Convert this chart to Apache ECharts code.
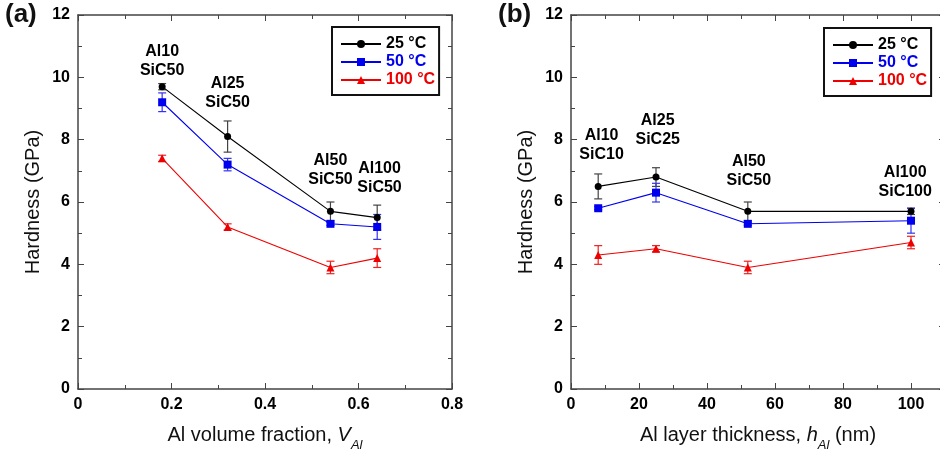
<!DOCTYPE html>
<html><head><meta charset="utf-8">
<script src="https://cdn.jsdelivr.net/npm/echarts@6/dist/echarts.min.js"></script>
<style>html,body{margin:0;padding:0;background:#fff}#c{width:940px;height:453px}</style>
</head><body><div id="c"></div>
<script>
// ---- Data ----
const seriesNames = ['25 °C', '50 °C', '100 °C'];
// Panel (a): Al volume fraction
const xA = [0.18, 0.32, 0.54, 0.64];
const a25 = [9.7, 8.1, 5.7, 5.5];
const a25err = [0.1, 0.5, 0.3, 0.4];
const a50 = [9.2, 7.2, 5.3, 5.2];
const a50err = [0.3, 0.2, 0.05, 0.4];
const a100 = [7.4, 5.2, 3.9, 4.2];
const a100err = [0.1, 0.1, 0.2, 0.3];
const annotA = ['Al10\nSiC50', 'Al25\nSiC50', 'Al50\nSiC50', 'Al100\nSiC50'];
const annotAx = [0.18, 0.32, 0.54, 0.645];
const annotAy = [10.52, 9.51, 7.01, 6.77];
// Panel (b): Al layer thickness (nm)
const xB = [8, 25, 52, 100];
const b25 = [6.5, 6.8, 5.7, 5.7];
const b25err = [0.4, 0.3, 0.3, 0.1];
const b50 = [5.8, 6.3, 5.3, 5.4];
const b50err = [0.05, 0.3, 0.05, 0.4];
const b100 = [4.3, 4.5, 3.9, 4.7];
const b100err = [0.3, 0.1, 0.2, 0.2];
const annotB = ['Al10\nSiC10', 'Al25\nSiC25', 'Al50\nSiC50', 'Al100\nSiC100'];
const annotBx = [9, 25.5, 52.3, 98.3];
const annotBy = [7.83, 8.31, 6.99, 6.63];
const yTicks = {min: 0, max: 12, interval: 2};

// ---- Styles ----
const colors = ['#000000', '#0000ee', '#ee0000'];
const errColors = ['#444444', '#3333ee', '#ee2222'];
const symbols = ['circle', 'rect', 'triangle'];
const symSizes = [7, 8, 8];
const FONT = '"Liberation Sans", Arial, Helvetica, sans-serif';
const frameColor = '#444';

const chart = echarts.init(document.getElementById('c'), null, {renderer: 'canvas'});

const tickLabel = {color: '#000', fontWeight: 'bold', fontSize: 16, fontFamily: FONT, margin: 8};

function mkX(grid, min, max, interval, name, pos, extra) {
  const main = pos === 'bottom';
  return Object.assign({
    type: 'value', gridIndex: grid, position: pos, min, max, interval,
    axisLine: {show: true, onZero: false, lineStyle: {color: frameColor, width: 1.5}},
    axisTick: {show: true, inside: true, length: 6, lineStyle: {color: frameColor, width: 1}},
    minorTick: {show: true, splitNumber: 2, length: 4, lineStyle: {color: frameColor, width: 1}},
    splitLine: {show: false},
    axisLabel: Object.assign({show: main}, tickLabel),
    name: main ? name : '', nameLocation: 'middle', nameGap: 30
  }, extra || {});
}
function mkY(grid, pos) {
  const main = pos === 'left';
  return {
    type: 'value', gridIndex: grid, position: pos, min: yTicks.min, max: yTicks.max, interval: yTicks.interval,
    axisLine: {show: true, onZero: false, lineStyle: {color: frameColor, width: 1.5}},
    axisTick: {show: true, inside: true, length: 6, lineStyle: {color: frameColor, width: 1}},
    minorTick: {show: true, splitNumber: 2, length: 4, lineStyle: {color: frameColor, width: 1}},
    splitLine: {show: false},
    axisLabel: Object.assign({show: main}, tickLabel),
    name: main ? 'Hardness (GPa)' : '', nameLocation: 'middle', nameGap: 35,
    nameTextStyle: {fontSize: 20, color: '#111', fontFamily: FONT}
  };
}
const richName = {
  n: {fontSize: 20, color: '#111', fontFamily: FONT},
  i: {fontSize: 20, color: '#111', fontFamily: FONT, fontStyle: 'italic'},
  s: {fontSize: 13, color: '#111', fontFamily: FONT, fontStyle: 'italic', padding: [20, 0, 0, 0]}
};

function lineSeries(idx, xs, ys, k) {
  return {
    type: 'line', name: seriesNames[k], xAxisIndex: idx * 2, yAxisIndex: idx * 2,
    data: xs.map((x, i) => [x, ys[i]]),
    symbol: symbols[k], symbolSize: symSizes[k], z: 3,
    lineStyle: {color: colors[k], width: 1.1}, itemStyle: {color: colors[k]},
    emphasis: {disabled: true}
  };
}
function errSeries(idx, xs, ys, es, k) {
  return {
    type: 'custom', xAxisIndex: idx * 2, yAxisIndex: idx * 2, z: 2, silent: true,
    data: xs.map((x, i) => [x, ys[i] - es[i], ys[i] + es[i]]),
    renderItem: function (params, api) {
      const x = api.value(0);
      const pLo = api.coord([x, api.value(1)]);
      const pHi = api.coord([x, api.value(2)]);
      const h = 4;
      const st = {stroke: errColors[k], lineWidth: 1.2};
      return {type: 'group', children: [
        {type: 'line', shape: {x1: pLo[0], y1: pLo[1], x2: pHi[0], y2: pHi[1]}, style: st},
        {type: 'line', shape: {x1: pHi[0] - h, y1: pHi[1], x2: pHi[0] + h, y2: pHi[1]}, style: st},
        {type: 'line', shape: {x1: pLo[0] - h, y1: pLo[1], x2: pLo[0] + h, y2: pLo[1]}, style: st}
      ]};
    }
  };
}
function annotSeries(idx, xs, ys, texts) {
  return {
    type: 'scatter', xAxisIndex: idx * 2, yAxisIndex: idx * 2, silent: true, z: 5,
    symbolSize: 0.1, itemStyle: {color: 'rgba(0,0,0,0)', opacity: 1},
    data: xs.map((x, i) => [x, ys[i], texts[i]]),
    label: {show: true, position: 'inside', formatter: p => p.data[2], color: '#000',
      textBorderWidth: 0, opacity: 1,
      fontWeight: 'bold', fontSize: 16, fontFamily: FONT, lineHeight: 19, align: 'center'}
  };
}
function legend(left, top) {
  return {
    left, top, orient: 'vertical', selectedMode: false,
    borderColor: '#111', borderWidth: 2, padding: [9, 4, 7, 8], backgroundColor: '#fff',
    itemWidth: 40, itemHeight: 10, itemGap: 2,
    textStyle: {fontWeight: 'bold', fontSize: 16, fontFamily: FONT, lineHeight: 16},
    data: seriesNames.map((n, k) => ({name: n, textStyle: {color: colors[k]}}))
  };
}

const option = {
  animation: false,
  backgroundColor: '#fff',
  grid: [
    {left: 78, top: 15, width: 374, height: 374, outerBoundsMode: 'none', containLabel: false},
    {left: 571, top: 15, width: 374, height: 374, outerBoundsMode: 'none', containLabel: false}
  ],
  legend: [legend(332, 27), legend(824, 28)],
  xAxis: [
    mkX(0, 0, 0.8, 0.2, '{n|Al volume fraction, }{i|V}{s|Al}', 'bottom', {
      nameGap: 30, nameTextStyle: {rich: richName}}),
    mkX(0, 0, 0.8, 0.2, '', 'top'),
    mkX(1, 0, 110, 20, '{n|Al layer thickness, }{i|h}{s|Al}{n| (nm)}', 'bottom', {
      nameGap: 30, nameTextStyle: {rich: richName}, axisLabel: Object.assign({show: true, showMaxLabel: false}, tickLabel)}),
    mkX(1, 0, 110, 20, '', 'top')
  ],
  yAxis: [mkY(0, 'left'), mkY(0, 'right'), mkY(1, 'left'), mkY(1, 'right')],
  graphic: [
    {type: 'text', left: 5, top: 2, style: {text: '(a)', fontSize: 26, fontWeight: 'bold', fontFamily: FONT, fill: '#111'}},
    {type: 'text', left: 498, top: 2, style: {text: '(b)', fontSize: 26, fontWeight: 'bold', fontFamily: FONT, fill: '#111'}}
  ],
  series: [
    errSeries(0, xA, a25, a25err, 0), errSeries(0, xA, a50, a50err, 1), errSeries(0, xA, a100, a100err, 2),
    lineSeries(0, xA, a25, 0), lineSeries(0, xA, a50, 1), lineSeries(0, xA, a100, 2),
    annotSeries(0, annotAx, annotAy, annotA),
    errSeries(1, xB, b25, b25err, 0), errSeries(1, xB, b50, b50err, 1), errSeries(1, xB, b100, b100err, 2),
    lineSeries(1, xB, b25, 0), lineSeries(1, xB, b50, 1), lineSeries(1, xB, b100, 2),
    annotSeries(1, annotBx, annotBy, annotB)
  ]
};
chart.setOption(option);
</script></body></html>
